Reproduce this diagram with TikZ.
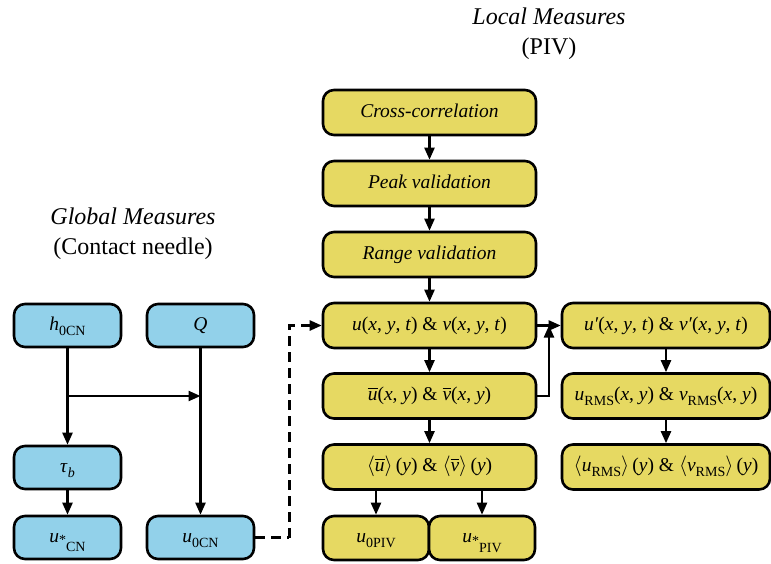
\documentclass[tikz,border=0pt]{standalone}
\usepackage{amsmath}
\usepackage{fontspec}
\setmainfont{Liberation Serif}
\usepackage{tikz}
\usetikzlibrary{arrows.meta}
\definecolor{global}{HTML}{92D1EA}
\definecolor{local}{HTML}{E6D962}
\tikzset{
  box/.style={draw=black, line width=2.6pt, rounded corners=11pt, inner sep=0pt,
    font=\fontsize{19.5}{22}\selectfont, text height=14pt, text depth=5pt},
  gbox/.style={box, fill=global, minimum width=107pt, minimum height=43pt},
  lbox/.style={box, fill=local, minimum width=213pt, minimum height=45pt},
  rbox/.style={box, fill=local, minimum width=208pt, minimum height=45pt},
  sbox/.style={box, fill=local, minimum width=106pt, minimum height=44pt},
  arr/.style={line width=2.3pt, -{Triangle[length=12pt,width=10pt]}},
  dline/.style={line width=2.5pt, dash pattern=on 10pt off 6pt},
  ttl/.style={font=\fontsize{24}{30}\selectfont, align=center}
}
\newcommand{\iv}[1]{\textit{#1}}
\newcommand{\sub}[1]{\raisebox{-0.28em}{\fontsize{14}{14}\selectfont #1}}
\newcommand{\starsub}[1]{\raisebox{-0.15em}{\fontsize{14}{14}\selectfont *}\raisebox{-0.5em}{\fontsize{14}{14}\selectfont #1}}

\begin{document}
\begin{tikzpicture}[x=1pt,y=-1pt]
  \useasboundingbox (0,0) rectangle (771,563);

  % titles
  \node[ttl] (tglob) at (133,234) {\iv{Global Measures}\\(Contact needle)};
  \node[ttl] (tloc) at (549,34) {\iv{Local Measures}\\(PIV)};

  % global measures (contact needle)
  \node[gbox] (h0) at (67.5,325.5) {\iv{h}\sub{0CN}};
  \node[gbox] (Q) at (200.5,325.5) {\iv{Q}};
  \node[gbox] (tau) at (67.5,467.5) {\iv{τ}\sub{\iv{b}}};
  \node[gbox] (ustar) at (67.5,537.5) {\iv{u}\starsub{CN}};
  \node[gbox] (u0) at (200.5,537.5) {\iv{u}\sub{0CN}};

  % local measures (PIV)
  \node[lbox] (cc) at (429.5,112.5) {\iv{Cross-correlation}};
  \node[lbox] (pv) at (429.5,183.5) {\iv{Peak validation}};
  \node[lbox] (rv) at (429.5,254.5) {\iv{Range validation}};
  \node[lbox] (uv) at (429.5,325.5) {\iv{u}(\iv{x}, \iv{y}, \iv{t}) \& \iv{v}(\iv{x}, \iv{y}, \iv{t})};
  \node[lbox] (ub) at (429.5,396) {$\overline{\mbox{\iv{u}}}$(\iv{x}, \iv{y}) \& $\overline{\mbox{\iv{v}}}$(\iv{x}, \iv{y})};
  \node[lbox] (um) at (429.5,467) {$\langle\overline{\mbox{\iv{u}}}\rangle$\,(\iv{y}) \& $\langle\overline{\mbox{\iv{v}}}\rangle$\,(\iv{y})};
  \node[sbox] (u0p) at (376,538) {\iv{u}\sub{0PIV}};
  \node[sbox] (usp) at (482,538) {\iv{u}\starsub{PIV}};

  \node[rbox] (up) at (666,325.5) {\iv{u′}(\iv{x}, \iv{y}, \iv{t}) \& \iv{v′}(\iv{x}, \iv{y}, \iv{t})};
  \node[rbox] (urms) at (666,396) {\iv{u}\sub{RMS}(\iv{x}, \iv{y}) \& \iv{v}\sub{RMS}(\iv{x}, \iv{y})};
  \node[rbox] (urmsm) at (666,467) {$\langle$\iv{u}\sub{RMS}$\rangle$\,(\iv{y}) \& $\langle$\iv{v}\sub{RMS}$\rangle$\,(\iv{y})};

  % connectors, global
  \coordinate (split) at (67.5,396);
  \draw[arr] (h0) -- (tau);
  \draw[arr] (split) -- (split -| Q);
  \draw[arr] (Q) -- (u0);
  \draw[arr] (tau) -- (ustar);
  \draw[dline] (u0.east) -- ++(34,0) coordinate (dk);
  \draw[dline, -{Triangle[length=12pt,width=10pt]}] (dk) |- (uv.west);

  % connectors, local
  \draw[arr] (cc) -- (pv);
  \draw[arr] (pv) -- (rv);
  \draw[arr] (rv) -- (uv);
  \draw[arr] (uv) -- (ub);
  \draw[arr] (ub) -- (um);
  \draw[arr] (um.south -| u0p) -- (u0p);
  \draw[arr] (um.south -| usp) -- (usp);
  \draw[arr] (uv.east) -- (up.west);
  \coordinate (mrg) at (549,325.5);
  \draw[arr] (ub.east) -| (mrg);
  \draw[arr] (up) -- (urms);
  \draw[arr] (urms) -- (urmsm);
\end{tikzpicture}
\end{document}
